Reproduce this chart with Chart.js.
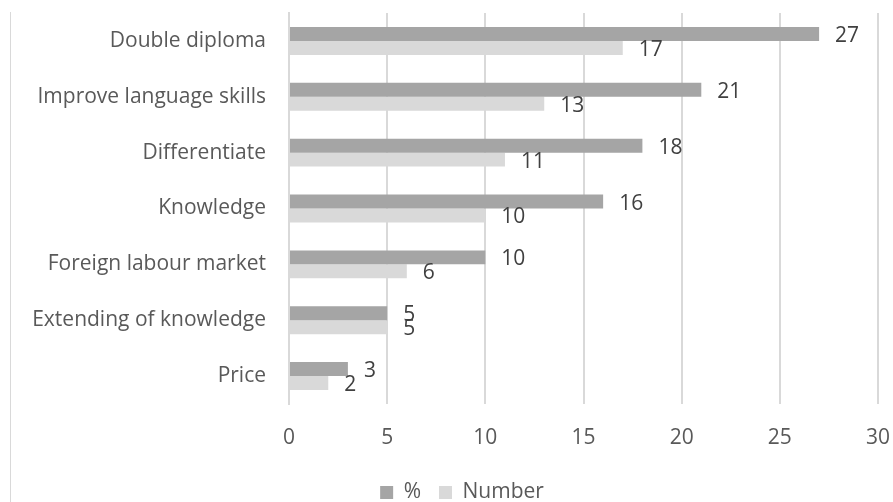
<!DOCTYPE html>
<html>
<head>
<meta charset="utf-8">
<script src="https://cdn.jsdelivr.net/npm/chart.js@4/dist/chart.umd.min.js"></script>
<style>
    html, body { margin: 0; padding: 0; background: #fff; }
    #wrap { position: relative; width: 893px; height: 502px; }
    #frame { position: absolute; left: 10px; top: 12px; height: 490px; border-left: 1px solid #d9d9d9; }
</style>
</head>
<body>
<div id="wrap">
    <div id="frame"></div>
    <canvas id="reasonsChart" width="893" height="502"></canvas>
</div>
<script>
const categories = ['Double diploma', 'Improve language skills', 'Differentiate', 'Knowledge',
    'Foreign labour market', 'Extending of knowledge', 'Price'];
const percentValues = [27, 21, 18, 16, 10, 5, 3];
const numberValues = [17, 13, 11, 10, 6, 5, 2];
const xTicks = [0, 5, 10, 15, 20, 25, 30];

const FONT = '"Open Sans", "Liberation Sans", sans-serif';
const FONT_SIZE = 21;

// value labels drawn just past the end of every bar
const barLabels = {
    id: 'barLabels',
    afterDatasetsDraw(chart) {
        const ctx = chart.ctx;
        ctx.save();
        ctx.font = FONT_SIZE + 'px ' + FONT;
        ctx.fillStyle = '#404040';
        ctx.textAlign = 'left';
        ctx.textBaseline = 'middle';
        chart.data.datasets.forEach((ds, i) => {
            chart.getDatasetMeta(i).data.forEach((bar, j) => {
                ctx.fillText(String(ds.data[j]), bar.x + 16, bar.y + 2);
            });
        });
        ctx.restore();
    }
};

// nudge the legend a bit right so it sits under the middle of the frame
const legendShift = {
    id: 'legendShift',
    afterLayout(chart) {
        if (chart.legend) {
            chart.legend.left += 23;
            chart.legend.right += 23;
        }
    }
};

document.addEventListener('DOMContentLoaded', () => {
    const ctx = document.getElementById('reasonsChart').getContext('2d');

    new Chart(ctx, {
        type: 'bar',
        data: {
            labels: categories,
            datasets: [{
                label: '%',
                data: percentValues,
                backgroundColor: '#a5a5a5',
                categoryPercentage: 0.5,
                barPercentage: 1,
            }, {
                label: 'Number',
                data: numberValues,
                backgroundColor: '#d9d9d9',
                categoryPercentage: 0.5,
                barPercentage: 1,
            }],
        },
        options: {
            indexAxis: 'y',
            responsive: false,
            animation: false,
            layout: { padding: { top: 13, right: 15, left: 0, bottom: -11 } },
            scales: {
                x: {
                    min: 0,
                    max: 30,
                    afterBuildTicks: axis => { axis.ticks = xTicks.map(v => ({ value: v })); },
                    grid: { color: '#d9d9d9', lineWidth: 2, drawTicks: true, tickLength: 21, tickColor: 'transparent' },
                    border: { display: false },
                    ticks: { color: '#595959', font: { family: FONT, size: FONT_SIZE }, padding: 0 },
                    afterFit: axis => { axis.height = 60; },
                },
                y: {
                    grid: { display: true, drawOnChartArea: false, color: 'transparent', drawTicks: true, tickLength: 23 },
                    border: { display: true, color: '#d9d9d9', width: 2 },
                    ticks: { color: '#595959', font: { family: FONT, size: FONT_SIZE }, padding: 0, autoSkip: false },
                    afterFit: axis => { axis.width = 289; },
                },
            },
            plugins: {
                legend: {
                    position: 'bottom',
                    labels: {
                        color: '#595959',
                        font: { family: FONT, size: FONT_SIZE },
                        boxWidth: 13,
                        boxHeight: 13,
                        padding: 18,
                    },
                },
                tooltip: { enabled: false },
            },
        },
        plugins: [barLabels, legendShift],
    });
});
</script>
</body>
</html>
